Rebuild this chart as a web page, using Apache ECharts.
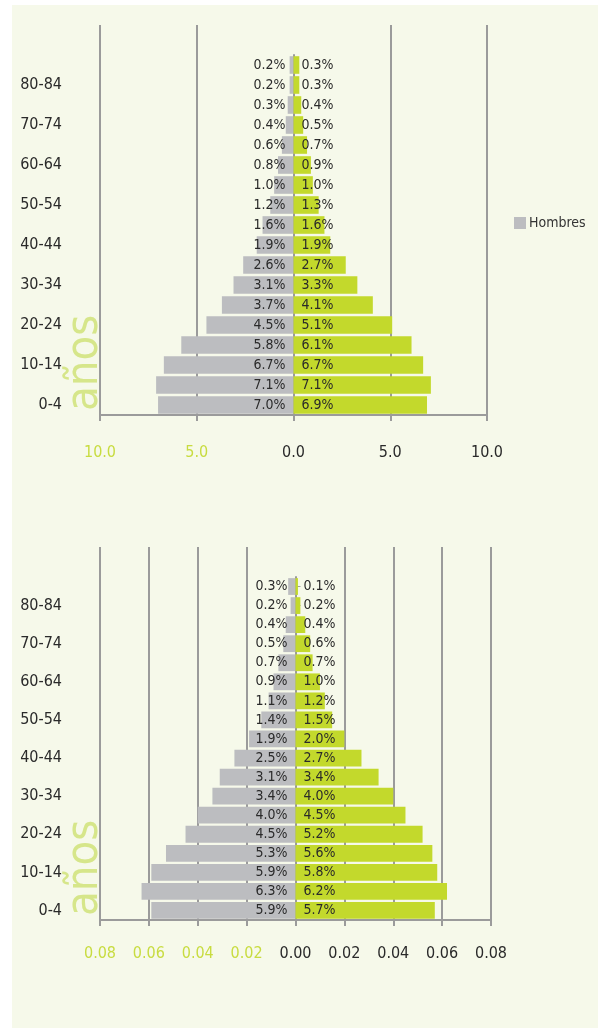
<!DOCTYPE html>
<html>
<head>
<meta charset="utf-8">
<script src="https://cdn.jsdelivr.net/npm/echarts@6/dist/echarts.min.js"></script>
<style>
  html, body { margin: 0; padding: 0; background: #ffffff; }
  #bg { position: absolute; left: 12px; top: 5px; width: 586px; height: 1023px; background: #f6f9ea; }
  #chart { position: absolute; left: 0; top: 0; width: 598px; height: 1029px; }
</style>
</head>
<body>
<div id="bg"></div>
<div id="chart"></div>
<script>
// ---- data (categories bottom-up: 0-4 first) ----
const ageGroups = ['0-4','5-9','10-14','15-19','20-24','25-29','30-34','35-39','40-44','45-49','50-54','55-59','60-64','65-69','70-74','75-79','80-84','85+'];
// top pyramid, percent
const hombresTop = [7.0, 7.1, 6.7, 5.8, 4.5, 3.7, 3.1, 2.6, 1.9, 1.6, 1.2, 1.0, 0.8, 0.6, 0.4, 0.3, 0.2, 0.2];
const mujeresTop = [6.9, 7.1, 6.7, 6.1, 5.1, 4.1, 3.3, 2.7, 1.9, 1.6, 1.3, 1.0, 0.9, 0.7, 0.5, 0.4, 0.3, 0.3];
// bottom pyramid, fractions
const hombresBottom = [0.059, 0.063, 0.059, 0.053, 0.045, 0.040, 0.034, 0.031, 0.025, 0.019, 0.014, 0.011, 0.009, 0.007, 0.005, 0.004, 0.002, 0.003];
const mujeresBottom = [0.057, 0.062, 0.058, 0.056, 0.052, 0.045, 0.040, 0.034, 0.027, 0.020, 0.015, 0.012, 0.010, 0.007, 0.006, 0.004, 0.002, 0.001];
const topTicks = { min: -10, max: 10, interval: 5 };
const bottomTicks = { min: -0.08, max: 0.08, interval: 0.02 };
const axisTitle = 'años';
const legendLabel = 'Hombres';

const FONT = "'DejaVu Sans Condensed', 'DejaVu Sans', sans-serif";
const GRID = '#9b9b9b';
const GRAY = '#bcbdc0';
const GREEN = '#c3d92c';
const LGREEN = '#c8dc40';
const TXT = '#2a2a2a';

function mainX(gridIndex, ticks, decimals, margin) {
  return {
    type: 'value', gridIndex, min: ticks.min, max: ticks.max, interval: ticks.interval,
    axisLine: { show: true, onZero: false, lineStyle: { color: GRID, width: 2 } },
    axisTick: { show: true, length: 6, lineStyle: { color: GRID, width: 2 } },
    splitLine: { show: true, lineStyle: { color: GRID, width: 2 } },
    axisLabel: {
      margin, fontSize: 16, fontFamily: FONT,
      formatter: v => Math.abs(v).toFixed(decimals),
      color: v => (v < -1e-9 ? LGREEN : TXT)
    }
  };
}
function auxX(gridIndex, ticks, n) {
  const colors = [];
  for (let i = 0; i < n; i++) colors.push(i === (n - 1) / 2 ? 'rgba(0,0,0,0)' : GRID);
  return {
    type: 'value', gridIndex, min: ticks.min, max: ticks.max, interval: ticks.interval,
    axisLine: { show: false }, axisTick: { show: false }, axisLabel: { show: false },
    splitLine: { show: true, lineStyle: { color: colors, width: 2 } }
  };
}
function labelY(gridIndex) {
  return {
    type: 'category', gridIndex, data: ageGroups, position: 'left',
    axisLine: { show: false, onZero: false }, axisTick: { show: false },
    axisLabel: { interval: 1, margin: 38, fontSize: 16, fontFamily: FONT, color: TXT }
  };
}
function centerY(gridIndex) {
  return {
    type: 'category', gridIndex, data: ageGroups, position: 'left',
    axisLine: { show: true, onZero: true, lineStyle: { color: GRID, width: 2 } },
    axisTick: { show: true, inside: true, alignWithLabel: true, length: 5, lineStyle: { color: GRID, width: 1 } },
    axisLabel: { show: false }
  };
}
function dummyY(gridIndex) {
  return { type: 'value', gridIndex, min: 0, max: 1, show: false,
    axisLine: { show: false }, axisTick: { show: false }, axisLabel: { show: false }, splitLine: { show: false } };
}
function barSeries(name, xIdx, yIdx, data, color, pos, scale) {
  return {
    type: 'bar', name, xAxisIndex: xIdx, yAxisIndex: yIdx, data,
    barGap: '-100%', barCategoryGap: '12%',
    itemStyle: { color },
    label: {
      show: true, position: pos, distance: 8,
      fontSize: 14, fontFamily: FONT, color: TXT,
      formatter: p => (Math.abs(p.value) * scale).toFixed(1) + '%'
    },
    emphasis: { disabled: true }
  };
}

const chart = echarts.init(document.getElementById('chart'), null, { renderer: 'canvas' });
chart.setOption({
  animation: false,
  grid: [
    { left: 100, top: 55, width: 387, height: 360 },
    { left: 100, top: 25, width: 387, height: 30 },
    { left: 100, top: 577, width: 391, height: 343 },
    { left: 100, top: 547, width: 391, height: 30 }
  ],
  xAxis: [
    mainX(0, topTicks, 1, 30),
    auxX(1, topTicks, 5),
    mainX(2, bottomTicks, 2, 26),
    auxX(3, bottomTicks, 9)
  ],
  yAxis: [
    labelY(0), centerY(0), dummyY(1),
    labelY(2), centerY(2), dummyY(3)
  ],
  legend: {
    data: [legendLabel], left: 509, top: 211, icon: 'rect', itemWidth: 12, itemHeight: 12,
    itemGap: 5, selectedMode: false,
    textStyle: { fontSize: 14, fontFamily: FONT, color: '#333', padding: [0, 0, 0, -2] }
  },
  graphic: [
    { type: 'text', x: 85, y: 411, rotation: Math.PI / 2, silent: true,
      style: { text: axisTitle, fontSize: 45, fontFamily: FONT, fill: '#d6e68a', align: 'left', verticalAlign: 'middle' } },
    { type: 'text', x: 85, y: 916, rotation: Math.PI / 2, silent: true,
      style: { text: axisTitle, fontSize: 45, fontFamily: FONT, fill: '#d6e68a', align: 'left', verticalAlign: 'middle' } }
  ],
  series: [
    barSeries('Hombres', 0, 0, hombresTop.map(v => -v), GRAY, 'insideRight', 1),
    barSeries('Mujeres', 0, 0, mujeresTop, GREEN, 'insideLeft', 1),
    barSeries('Hombres', 2, 3, hombresBottom.map(v => -v), GRAY, 'insideRight', 100),
    barSeries('Mujeres', 2, 3, mujeresBottom, GREEN, 'insideLeft', 100)
  ]
});
</script>
</body>
</html>
